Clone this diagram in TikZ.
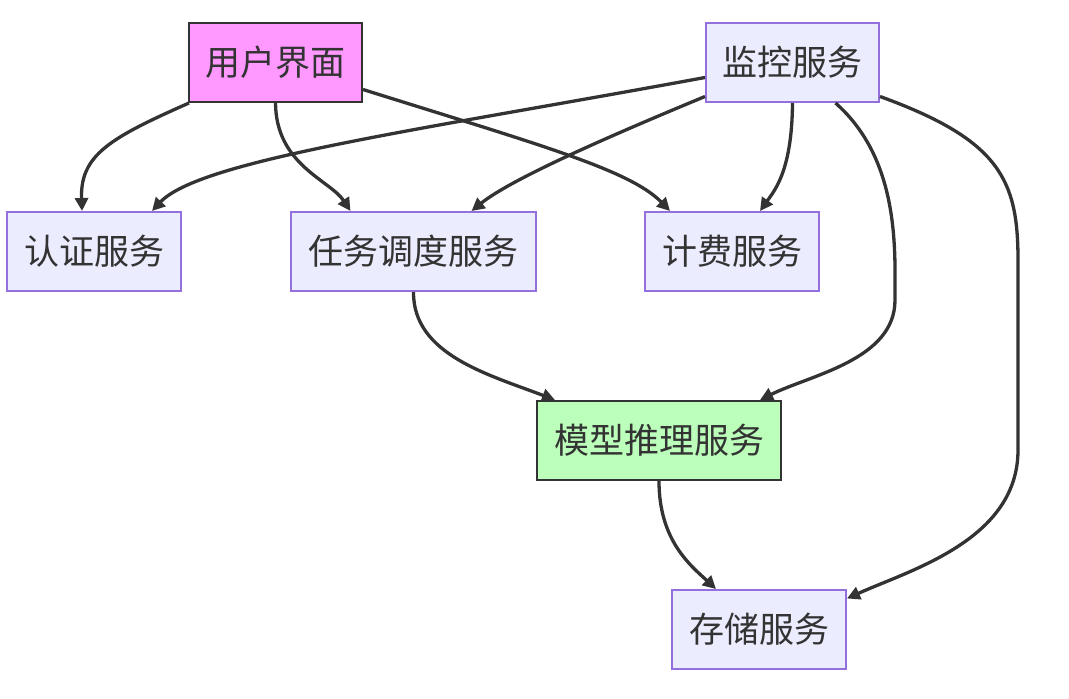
\documentclass[tikz,border=0pt]{standalone}
\usepackage{fontspec}
\setmainfont{Noto Sans CJK SC}
\usepackage{tikz}
\usetikzlibrary{arrows.meta}
\definecolor{boxfill}{HTML}{ECECFF}
\definecolor{boxline}{HTML}{9370DB}
\definecolor{edge}{HTML}{333333}
\definecolor{uifill}{HTML}{FF99FF}
\definecolor{modelfill}{HTML}{BBFFBB}

\begin{document}
\begin{tikzpicture}[x=1pt,y=-1pt]
            \tikzstyle{every node}+=[inner sep=0pt, text=edge, font=\fontsize{35}{42}\selectfont]
            \tikzstyle{svc}=[draw=boxline, fill=boxfill, line width=2pt, minimum height=79pt]
            \tikzstyle{hot}=[draw=edge, line width=2pt, minimum height=79pt]
            \tikzstyle{link}=[draw=edge, line width=3.3pt, -{Triangle[length=13pt,width=13pt]}]
            \useasboundingbox (0,0) rectangle (1069,699);
            % nodes
            \node [hot, fill=uifill, minimum width=173pt] (ui) at (275.5,62.5) {用户界面};
            \node [svc, minimum width=173pt] (mon) at (792.5,62.5) {监控服务};
            \node [svc, minimum width=174pt] (auth) at (94,251.5) {认证服务};
            \node [svc, minimum width=245pt] (sched) at (413.5,251.5) {任务调度服务};
            \node [svc, minimum width=174pt] (bill) at (732,251.5) {计费服务};
            \node [hot, fill=modelfill, minimum width=244pt] (model) at (659,440.5) {模型推理服务};
            \node [svc, minimum width=174pt] (store) at (759,629.5) {存储服务};
            % from the user interface
            \draw [link] ([xshift=1pt]ui.south west) .. controls (110,138) and (80,155) .. ([xshift=-12pt]auth.north);
            \draw [link] (ui.south) .. controls (276,165) and (330,180) .. ([xshift=-63pt]sched.north);
            \draw [link] ([yshift=-27pt]ui.east) .. controls (540,145) and (630,170) .. ([xshift=-62pt]bill.north);
            % from monitoring
            \draw [link] ([yshift=-15pt]mon.west) .. controls (420,130) and (200,160) .. ([xshift=58pt]auth.north);
            \draw [link] ([yshift=-34pt]mon.west) .. controls (600,140) and (510,180) .. ([xshift=58pt]sched.north);
            \draw [link] (mon.south) .. controls (792,170) and (775,190) .. ([xshift=28pt]bill.north);
            \draw [link] ([xshift=43pt]mon.south) .. controls (900,160) and (895,250) .. (895,300)
                .. controls (895,360) and (810,375) .. ([xshift=101pt]model.north);
            \draw [link] ([yshift=-34pt]mon.east) .. controls (1000,140) and (1018,180) .. (1018,260)
                -- (1018,450) .. controls (1018,540) and (910,570) .. ([yshift=31pt]store.east);
            % down the chain
            \draw [link] (sched.south) .. controls (413,355) and (490,375) .. ([xshift=-104pt]model.north);
            \draw [link] (model.south) .. controls (659,540) and (690,565) .. ([xshift=-43pt]store.north);
        \end{tikzpicture}
\end{document}
